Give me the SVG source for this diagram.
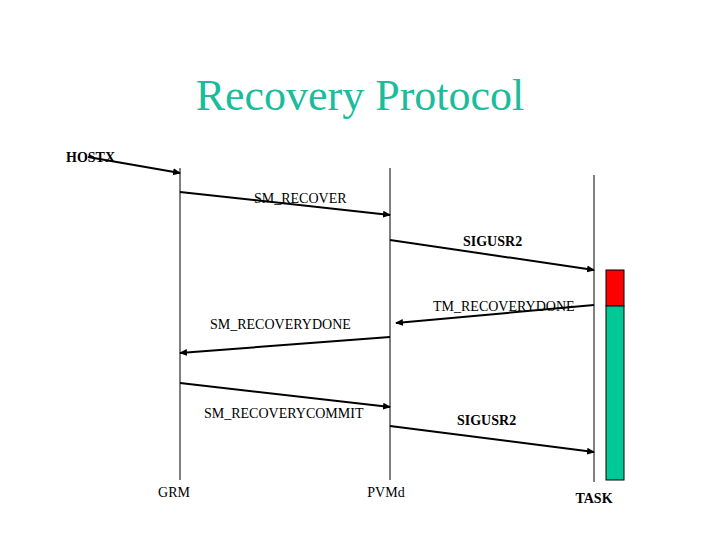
<svg xmlns="http://www.w3.org/2000/svg" width="720" height="540" viewBox="0 0 720 540">
<style>
.t{font-family:"Liberation Serif",serif;font-size:14px;fill:#000}
.b{font-weight:bold}
.ll{stroke:#000;stroke-width:1}
.a{stroke:#000;stroke-width:2;fill:none;marker-end:url(#ah)}
</style>
<defs><marker id="ah" markerWidth="8" markerHeight="8" refX="7" refY="4" orient="auto" markerUnits="userSpaceOnUse"><path d="M0,0.5 L8,4 L0,7.5 Z" fill="#000"/></marker></defs>
<rect width="720" height="540" fill="#fff"/>
<text x="360" y="110" text-anchor="middle" font-family="Liberation Serif,serif" font-size="44" fill="#1abc9c">Recovery Protocol</text>
<g id="grm"><line class="ll" x1="180" y1="168" x2="180" y2="480"/><text class="t" x="174" y="497" text-anchor="middle">GRM</text></g>
<g id="pvmd"><line class="ll" x1="390" y1="168" x2="390" y2="480"/><text class="t" x="386" y="497" text-anchor="middle">PVMd</text></g>
<g id="task"><line class="ll" x1="594" y1="175" x2="594" y2="482"/><rect x="606" y="270" width="18" height="36" fill="#ff0000" stroke="#000"/><rect x="606" y="306" width="18" height="174" fill="#00c896" stroke="#000"/><text class="t b" x="594" y="503" text-anchor="middle">TASK</text></g>
<g id="connectors">
<path class="a" d="M88,157 L180,173"/>
<path class="a" d="M180,192 L390,215"/>
<path class="a" d="M390,240 L594,270"/>
<path class="a" d="M594,305 L396,323"/>
<path class="a" d="M390,337 L180,353"/>
<path class="a" d="M180,383 L390,407"/>
<path class="a" d="M390,426 L594,452"/>
</g>
<g id="labels">
<text class="t b" x="66" y="162">HOSTX</text>
<text class="t" x="254" y="203">SM_RECOVER</text>
<text class="t b" x="463" y="246">SIGUSR2</text>
<text class="t" x="433" y="311">TM_RECOVERYDONE</text>
<text class="t" x="210" y="329">SM_RECOVERYDONE</text>
<text class="t" x="204" y="418">SM_RECOVERYCOMMIT</text>
<text class="t b" x="457" y="425">SIGUSR2</text>
</g>
</svg>
